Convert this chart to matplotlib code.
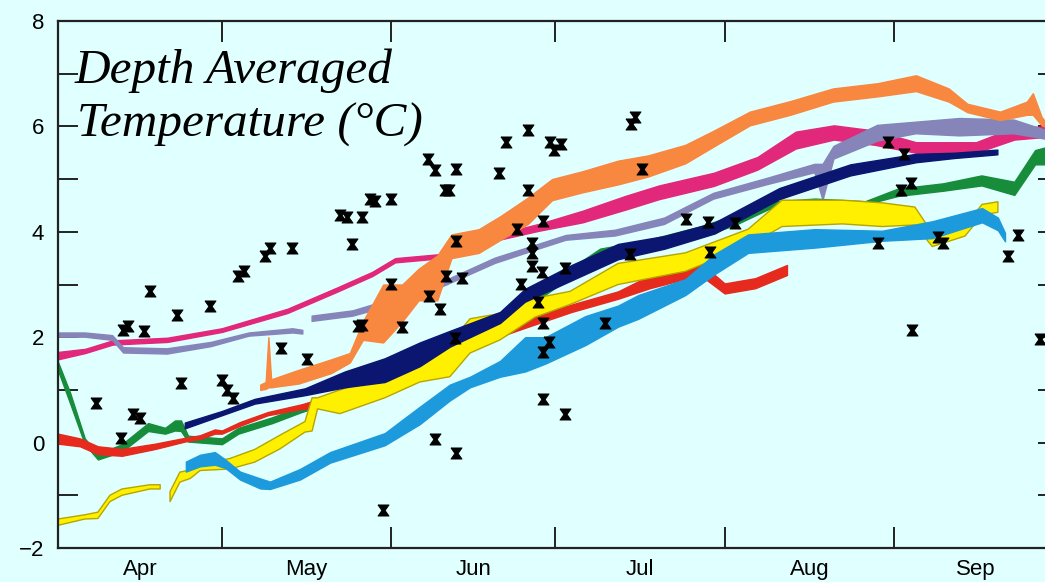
import numpy as np
import matplotlib
matplotlib.use('Agg')
import matplotlib.pyplot as plt

nan = np.nan

# days since 1 April; temperatures in deg C (lo / hi envelope of each record)
pink_day = [0, 5, 10, 20, 30, 42, 51, 57.5, 61.7, 70.3, 76, 88, 96, 103.8, 110, 120, 128, 135, 142, 149.5, 157, 168, 175, 180.6]
pink_lo = [1.58, 1.7, 1.86, 1.91, 2.1, 2.46, 2.86, 3.16, 3.42, 3.5, 3.74, 4.02, 4.18, 4.42, 4.62, 4.87, 5.18, 5.58, 5.75, 5.65, 5.5, 5.5, 5.75, 5.8]
pink_hi = [1.72, 1.78, 1.94, 1.99, 2.17, 2.54, 2.94, 3.24, 3.5, 3.58, 3.84, 4.15, 4.4, 4.68, 4.88, 5.12, 5.42, 5.9, 6.02, 5.92, 5.7, 5.7, 5.98, 6.0]

lav_day = [0, 5, 10, 12, 20, 28, 35, 43, 44.8, nan, 46.5, 54, 62, 70, 80, 87, 93, 102, 111, 120, 130, 138.5, 140, 142, 150, 157, 165, 175, 180.6]
lav_lo = [2.0, 2.0, 1.94, 1.7, 1.68, 1.82, 2.02, 2.08, 2.06, nan, 2.3, 2.4, 2.63, 2.94, 3.4, 3.64, 3.84, 3.92, 4.14, 4.62, 4.9, 5.12, 4.6, 5.38, 5.72, 5.86, 5.82, 5.86, 5.76]
lav_hi = [2.08, 2.08, 2.03, 1.8, 1.78, 1.9, 2.08, 2.16, 2.13, nan, 2.4, 2.5, 2.75, 3.03, 3.5, 3.73, 3.93, 4.03, 4.26, 4.73, 5.02, 5.28, 5.28, 5.62, 6.02, 6.08, 6.15, 6.12, 5.93]

or_day = [37, 38, 38.5, 39, 44, 50, 53.4, 55.8, 59.5, 63, 66, 69.4, 72, 77, 81, 86, 90.4, 96, 102.5, 108, 114.8, 120, 126.6, 134, 141.8, 150, 157, 163, 166.4, 172.4, 177.3, 178.4, 180, 180.6]
or_lo = [1.0, 1.02, 1.05, 1.05, 1.12, 1.32, 1.52, 1.95, 1.9, 2.3, 2.7, 2.7, 3.5, 3.6, 3.85, 4.15, 4.6, 4.75, 4.9, 5.05, 5.3, 5.62, 6.02, 6.22, 6.47, 6.57, 6.67, 6.47, 6.27, 6.12, 6.22, 6.22, 6.02, 6.0]
or_hi = [1.1, 1.15, 2.0, 1.2, 1.38, 1.58, 1.7, 2.3, 3.0, 3.0, 3.3, 3.55, 3.95, 4.05, 4.3, 4.65, 5.0, 5.15, 5.35, 5.45, 5.65, 5.92, 6.28, 6.48, 6.72, 6.82, 6.97, 6.72, 6.43, 6.28, 6.47, 6.63, 6.18, 6.1]

gr_day = [0, 2.2, 4.9, 7.3, 11.7, 16.5, 19.6, 21.4, 22.5, 23.8, 30, 33, 39.2, 44.3, 53.4, 66.2, 81, 99.2, 108, 117.5, 123.9, 130, 138.5, 147.7, 153.7, 162, 169, 175, 178.8, 180.6]
gr_lo = [1.37, 0.75, -0.03, -0.32, -0.17, 0.22, 0.17, 0.23, 0.22, 0.02, -0.03, 0.17, 0.37, 0.57, 0.88, 1.45, 2.23, 3.52, 3.65, 3.9, 4.13, 4.43, 4.52, 4.52, 4.68, 4.78, 4.88, 4.7, 5.28, 5.28]
gr_hi = [1.53, 0.95, 0.08, -0.22, -0.03, 0.37, 0.28, 0.42, 0.42, 0.13, 0.08, 0.28, 0.48, 0.68, 1.06, 1.65, 2.42, 3.68, 3.85, 4.1, 4.32, 4.57, 4.63, 4.58, 4.82, 4.92, 5.07, 4.95, 5.55, 5.6]

rd_day = [0, 4, 7.3, 11.7, 17.8, 23.2, 26, 28.7, 30, 33.3, 38.4, 44.7, 49.2, 58.9, 71.7, 85.5, 94, 102.5, 108.3, 117.5, 122, 127.6, 133.4]
rd_lo = [-0.02, -0.07, -0.22, -0.25, -0.12, 0.02, 0.07, 0.17, 0.17, 0.32, 0.52, 0.64, 0.68, 1.13, 1.68, 2.18, 2.48, 2.73, 2.93, 3.18, 2.83, 2.93, 3.18]
rd_hi = [0.17, 0.08, -0.07, -0.12, -0.02, 0.09, 0.14, 0.25, 0.23, 0.39, 0.58, 0.73, 0.87, 1.27, 1.82, 2.37, 2.62, 2.87, 3.17, 3.42, 3.02, 3.12, 3.37]

ye_day = [0, 4.9, 7.3, 9.5, 11.7, 16.8, 18.7, nan, 20.5, 22.3, 24.2, 26, 31.5, 36, 40.6, 45.2, 46.5, 47.5, 51.6, 59.8, 66.2, 71.7, 75.4, 80.9, 87.3, 93.7, 102.5, 114.8, 126.3, 132.5, 143.5, 150.8, 156.8, 160, 166, 169.1, 172]
ye_lo = [-1.57, -1.45, -1.44, -1.12, -1.0, -0.88, -0.88, nan, -1.12, -0.75, -0.68, -0.53, -0.5, -0.37, -0.12, 0.2, 0.22, 0.64, 0.55, 0.85, 1.15, 1.25, 1.7, 1.95, 2.38, 2.62, 3.0, 3.25, 3.73, 4.1, 4.15, 4.1, 4.13, 3.72, 3.92, 4.32, 4.37]
ye_hi = [-1.45, -1.37, -1.32, -1.0, -0.88, -0.8, -0.8, nan, -0.93, -0.56, -0.52, -0.42, -0.3, -0.13, 0.14, 0.4, 0.85, 0.85, 1.0, 1.25, 1.8, 1.9, 2.35, 2.45, 2.74, 2.87, 3.4, 3.6, 4.05, 4.6, 4.6, 4.55, 4.47, 3.98, 4.12, 4.52, 4.57]

nv_day = [23.2, 30, 36, 45.2, 52.5, 59.8, 66.2, 71.7, 80.9, 85.5, 94, 102.5, 111, 120.2, 132, 145, 157, 164, 171.9]
nv_lo = [0.27, 0.52, 0.74, 0.9, 1.05, 1.15, 1.45, 1.82, 2.27, 2.68, 3.08, 3.48, 3.68, 3.97, 4.62, 5.07, 5.32, 5.4, 5.47]
nv_hi = [0.38, 0.6, 0.83, 1.03, 1.35, 1.6, 1.9, 2.12, 2.48, 2.92, 3.37, 3.77, 3.92, 4.18, 4.83, 5.28, 5.48, 5.5, 5.56]

bl_day = [23.4, 26, 28.7, 30.6, 33.3, 37, 38.8, 44.3, 49.8, 59.8, 66.2, 71.7, 75.4, 80.9, 85.5, 89.2, 96.5, 102.5, 106.2, 114.8, 120.2, 126.3, 138.5, 150.8, 160, 169.1, 172, 173.3]
bl_lo = [-0.55, -0.45, -0.42, -0.48, -0.7, -0.87, -0.88, -0.7, -0.38, -0.05, 0.35, 0.8, 1.05, 1.25, 1.35, 1.5, 1.85, 2.2, 2.35, 2.8, 3.2, 3.6, 3.7, 3.83, 3.88, 4.18, 4.03, 3.82]
bl_hi = [-0.36, -0.23, -0.18, -0.32, -0.55, -0.68, -0.74, -0.5, -0.18, 0.18, 0.68, 1.1, 1.25, 1.55, 2.0, 2.0, 2.4, 2.6, 2.8, 3.1, 3.58, 3.95, 4.05, 4.02, 4.2, 4.45, 4.27, 3.98]

# CTD casts (black markers)
ctd_day = [6.95, 11.5, 13.7, 15.0, 11.9, 12.8, 15.7, 16.8, 21.8, 27.8, 22.5, 30.0, 30.9, 32.0, 32.9, 34.0,
           37.9, 38.8, 42.8, 40.8, 45.6, 51.6, 52.9, 55.6, 53.8, 57.1, 58.0, 54.9, 55.6, 59.5, 60.9, 60.9,
           63.0, 67.7, 69.0, 72.8, 70.8, 71.6, 67.9, 69.9, 71.0, 73.9, 72.8, 72.7, 69.0, 72.8, 80.7, 82.0,
           86.0, 86.0, 84.0, 84.7, 86.8, 86.8, 86.8, 88.6, 88.8, 87.8, 88.8, 89.9, 88.8, 88.8, 90.0, 92.1,
           90.8, 92.8, 92.8, 100.1, 104.9, 105.6, 104.7, 106.9, 114.9, 119.0, 119.3, 123.9, 150.1, 151.9,
           154.8, 154.3, 156.1, 156.3, 161.1, 162.0, 173.9, 175.7, 179.7]
ctd_temp = [0.75, 0.08, 0.54, 0.46, 2.13, 2.21, 2.11, 2.87, 2.43, 2.6, 1.13, 1.18, 0.99, 0.84, 3.16, 3.25,
            3.55, 3.7, 3.7, 1.79, 1.58, 4.31, 4.28, 4.28, 3.77, 4.62, 4.58, 2.21, 2.23, -1.27, 4.62, 3.01,
            2.19, 5.38, 5.17, 5.19, 4.79, 4.79, 2.78, 2.53, 3.16, 3.12, 3.82, 1.98, 0.06, -0.2, 5.11, 5.7,
            5.93, 4.79, 4.05, 3.01, 3.79, 3.6, 3.35, 3.24, 4.21, 2.66, 2.26, 1.9, 1.71, 0.82, 5.7, 5.66,
            5.55, 3.32, 0.54, 2.26, 6.04, 6.17, 3.57, 5.19, 4.25, 4.19, 3.61, 4.16, 3.79, 5.7,
            5.47, 4.79, 4.92, 2.13, 3.91, 3.78, 3.54, 3.93, 1.96]

month_edges = [30, 61, 91, 122, 153]
month_mids = [15, 45.5, 76, 106.5, 137.5, 168]
month_names = ['Apr', 'May', 'Jun', 'Jul', 'Aug', 'Sep']

bg = '#E0FFFF'
fig = plt.figure(figsize=(10.45, 5.82), dpi=100, facecolor=bg)
ax = fig.add_axes([58/1045, 34/582, 1000/1045, 527/582], facecolor=bg)

series = [
    (pink_day, pink_lo, pink_hi, '#E2287A', '#E2287A'),
    (lav_day, lav_lo, lav_hi, '#8585BA', '#8585BA'),
    (or_day, or_lo, or_hi, '#F8873F', '#F8873F'),
    (gr_day, gr_lo, gr_hi, '#178C3A', '#178C3A'),
    (rd_day, rd_lo, rd_hi, '#E62A1E', '#E62A1E'),
    (ye_day, ye_lo, ye_hi, '#FFF000', '#B5A500'),
    (nv_day, nv_lo, nv_hi, '#0B1670', '#0B1670'),
    (bl_day, bl_lo, bl_hi, '#1C9ADC', '#1C9ADC'),
]
for i, (d, lo, hi, fc, ec) in enumerate(series):
    d = np.array(d, dtype=float)
    lo = np.array(lo, dtype=float)
    hi = np.array(hi, dtype=float)
    ax.fill_between(d, lo, hi, facecolor=fc, edgecolor=ec, linewidth=1.0, zorder=2 + i * 0.1)

# hourglass marker like the error-bar symbols
hg = [(-1, 1), (1, 1), (0.3, 0), (1, -1), (-1, -1), (-0.3, 0), (-1, 1)]
ax.plot(ctd_day, ctd_temp, linestyle='none', marker=hg, markersize=8,
        color='black', markeredgewidth=0.6, zorder=5)

ax.set_xlim(0, 183)
ax.set_ylim(-2, 8)

ax.set_xticks(month_edges)
ax.set_xticks(month_mids, minor=True)
ax.set_xticklabels([])
ax.set_xticklabels(month_names, minor=True, fontsize=16, family='Liberation Sans')
ax.tick_params(axis='x', which='major', direction='in', length=15, width=1.4,
               top=True, bottom=True, color='#222222')
ax.tick_params(axis='x', which='minor', length=0, pad=8)

ax.set_yticks([-2, 0, 2, 4, 6, 8])
ax.set_yticks(np.arange(-2, 9, 1), minor=True)
ax.set_yticklabels(['\u22122', '0', '2', '4', '6', '8'], fontsize=16, family='Liberation Sans')
ax.tick_params(axis='y', which='both', direction='in', length=14.5, width=1.4,
               left=True, right=True, color='#222222', pad=10)

for s in ax.spines.values():
    s.set_linewidth(1.6)
    s.set_color('#222222')

ax.text(0.017, 0.882, 'Depth Averaged', transform=ax.transAxes, fontsize=35.5,
        family='Liberation Serif', style='italic', va='baseline', ha='left', zorder=6)
ax.text(0.019, 0.78, 'Temperature (\u00b0C)', transform=ax.transAxes, fontsize=35.5,
        family='Liberation Serif', style='italic', va='baseline', ha='left', zorder=6)

fig.savefig('out.png', dpi=100, facecolor=bg)
